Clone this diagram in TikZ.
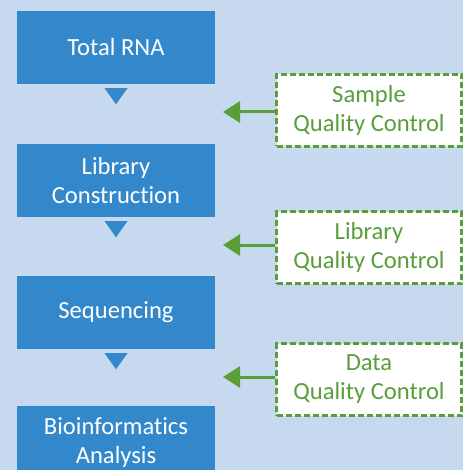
\documentclass[tikz,border=0pt]{standalone}
\usepackage{fontspec}
\setmainfont[Ligatures={NoCommon}]{Carlito}
\usetikzlibrary{calc,arrows.meta}
\definecolor{bg}{HTML}{C6D9EE}
\definecolor{blu}{HTML}{3388CC}
\definecolor{grn}{HTML}{5A9E3A}
\begin{document}
\begin{tikzpicture}[x=1pt,y=-1pt,
  stage/.style={fill=blu, text=white, minimum width=198pt, minimum height=73pt,
    inner sep=0pt, align=center, font=\fontsize{24.6}{29}\selectfont},
  qc/.style={draw=grn, dash pattern=on 6pt off 3pt, line width=2.2pt, fill=white,
    text=grn, minimum width=185pt, minimum height=72pt, inner sep=0pt,
    align=center, font=\fontsize{24.6}{29}\selectfont},
  qcarrow/.style={draw=grn, line width=3pt, -{Triangle[length=17pt,width=21pt]}},
  tri/.style={fill=blu}]
\useasboundingbox[fill=bg] (0,0) rectangle (463,470);
\node[stage] (s1) at (116,47.5) {Total RNA};
\node[stage] (s2) at (116,180.5) {Library\\Construction};
\node[stage] (s3) at (116,312.5) {Sequencing};
\node[stage] (s4) at (116,442.5) {Bioinformatics\\Analysis};
\foreach \s in {s1,s2,s3}{
  \coordinate (t-\s) at ($(\s.south)+(0,4)$);
  \fill[tri] ($(t-\s)+(-11.5,0)$) -- ($(t-\s)+(11.5,0)$) -- ($(t-\s)+(0,16)$) -- cycle;
}
\node[qc] (q1) at (369,110.5) {Sample\\Quality Control};
\node[qc] (q2) at (369,247.5) {Library\\Quality Control};
\node[qc] (q3) at (369,379.5) {Data\\Quality Control};
\coordinate (a1) at (223,112);
\coordinate (a2) at (223,245);
\coordinate (a3) at (223,377);
\draw[qcarrow] (q1.west |- a1) -- (a1);
\draw[qcarrow] (q2.west |- a2) -- (a2);
\draw[qcarrow] (q3.west |- a3) -- (a3);
\end{tikzpicture}
\end{document}
